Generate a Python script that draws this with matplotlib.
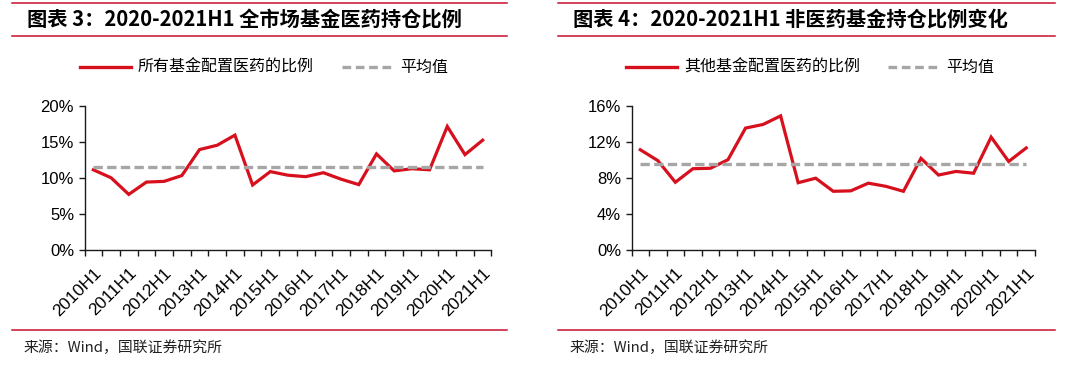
import matplotlib
matplotlib.use("Agg")
import matplotlib.pyplot as plt
from matplotlib.lines import Line2D
from matplotlib.ticker import FuncFormatter
import numpy as np

plt.rcParams['font.family'] = ['Noto Sans CJK SC', 'DejaVu Sans']

# semi-annual periods 2010H1 .. 2021H1
periods = ['2010H1', '2010H2', '2011H1', '2011H2', '2012H1', '2012H2',
           '2013H1', '2013H2', '2014H1', '2014H2', '2015H1', '2015H2',
           '2016H1', '2016H2', '2017H1', '2017H2', '2018H1', '2018H2',
           '2019H1', '2019H2', '2020H1', '2020H2', '2021H1']

# 图表3 全市场基金医药持仓比例 (%)
all_funds = [11.1, 10.0, 7.7, 9.4, 9.5, 10.3, 13.9, 14.5, 15.9, 9.0, 10.85, 10.35,
             10.15, 10.7, 9.8, 9.05, 13.3, 10.95, 11.25, 11.1, 17.1, 13.2, 15.2]
all_avg = 11.45

# 图表4 非医药基金持仓比例 (%)
other_funds = [11.1, 9.9, 7.5, 9.0, 9.05, 10.0, 13.5, 13.9, 14.85, 7.45, 7.95, 6.5,
               6.55, 7.4, 7.05, 6.5, 10.15, 8.3, 8.7, 8.5, 12.5, 9.8, 11.3]
other_avg = 9.47

titles = ['图表 3：2020-2021H1 全市场基金医药持仓比例',
          '图表 4：2020-2021H1 非医药基金持仓比例变化']
series_names = ['所有基金配置医药的比例', '其他基金配置医药的比例']
source = '来源：Wind，国联证券研究所'

RED = '#D7101E'
GRAY = '#A6A6A6'
RULE = '#C8102E'
W, H = 1089, 379

fig = plt.figure(figsize=(W / 100, H / 100), dpi=100)

def px(x, y):
    return x / W, 1 - y / H

def panel(x0, x1, axes_left, axes_right, data, avg, ymax, ystep, title, name):
    # red rules around title and at bottom
    for yy in (3, 35.5, 330):
        fig.add_artist(Line2D([x0 / W, x1 / W], [1 - yy / H] * 2, color=RULE, lw=1.1))
    fig.text(*px(x0 + 15, 19), title, fontsize=14.6, weight='bold', style='italic',
             va='center', ha='left')
    fig.text(*px(x0 + 12, 348), source, fontsize=10.7, va='center', ha='left', color='#222222')

    # legend
    lx = x0 + 68
    fig.add_artist(Line2D([lx / W, (lx + 51) / W], [1 - 67 / H] * 2, color=RED, lw=2.4))
    fig.text(*px(lx + 58, 67), name, fontsize=11.5, va='center', ha='left')
    gx = lx + 262
    ln = Line2D([gx / W, (gx + 51) / W], [1 - 67 / H] * 2, color=GRAY, lw=2.4)
    ln.set_dashes((2.6, 1.4))
    fig.add_artist(ln)
    fig.text(*px(gx + 58, 67), '平均值', fontsize=11.5, va='center', ha='left')

    top, bottom = 105.5, 250
    ax = fig.add_axes([axes_left / W, 1 - bottom / H, (axes_right - axes_left) / W, (bottom - top) / H])
    x = np.arange(len(periods))
    ax.plot(x, data, color=RED, lw=2.3, solid_joinstyle='miter')
    avl, = ax.plot(x, [avg] * len(periods), color=GRAY, lw=2.4)
    avl.set_dashes((2.8, 1.3))
    ax.set_xlim(-0.5, len(periods) - 0.5)
    ax.set_ylim(0, ymax)
    ax.set_yticks(np.arange(0, ymax + 0.01, ystep))
    ax.yaxis.set_major_formatter(FuncFormatter(lambda v, p: f'{v:.0f}%'))
    for s in ('top', 'right'):
        ax.spines[s].set_visible(False)
    for s in ('left', 'bottom'):
        ax.spines[s].set_linewidth(1.0)
        ax.spines[s].set_color('#1a1a1a')
    ax.set_xticks(np.arange(-0.5, len(periods), 1.0), minor=True)
    ax.set_xticks(x[::2])
    ax.set_xticklabels(periods[::2], rotation=45, ha='right', rotation_mode='anchor',
                       fontsize=12.5, family='Liberation Sans')
    ax.tick_params(axis='x', which='major', length=0, pad=11)
    ax.tick_params(axis='x', which='minor', length=4.5, width=1.0, color='#1a1a1a', direction='out')
    ax.tick_params(axis='y', length=4.5, width=1.0, color='#1a1a1a', pad=3, labelsize=12)
    for t in ax.get_yticklabels():
        t.set_family('Liberation Sans')
    ax.patch.set_alpha(0)
    return ax

panel(12, 507, 84.5, 491.5, all_funds, all_avg, 20, 5, titles[0], series_names[0])
panel(558, 1055, 631.5, 1035, other_funds, other_avg, 16, 4, titles[1], series_names[1])

fig.savefig('out.png', dpi=100, facecolor='white')
